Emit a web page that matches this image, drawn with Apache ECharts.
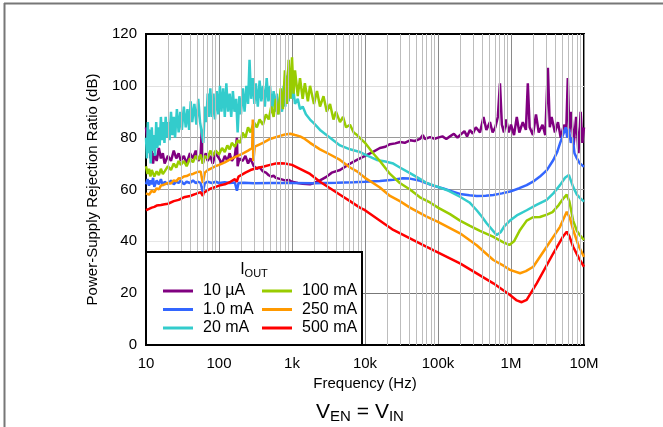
<!DOCTYPE html>
<html><head><meta charset="utf-8">
<script src="https://cdn.jsdelivr.net/npm/echarts/dist/echarts.min.js"></script>
<style>html,body{margin:0;padding:0;background:#fff}#c{width:663px;height:427px}</style>
</head><body><div id="c"></div>
<script>
// ---- tick labels ----
const xTickValues = [10, 100, 1000, 10000, 100000, 1000000, 10000000];
const xTickLabels = ['10', '100', '1k', '10k', '100k', '1M', '10M'];
const yTicks = [0, 20, 40, 60, 80, 100, 120];
const seriesNames = ['10 \u00b5A', '1.0 mA', '20 mA', '100 mA', '250 mA', '500 mA'];
const seriesColors = ['#800080', '#3366ff', '#33cccc', '#99cc00', '#ff9900', '#ff0000'];

// ---- series data: [frequency Hz, PSRR dB] ----
const s10uA = [[10,84],[10.5,78],[11,83],[11.5,72],[12,75],[12.5,70],[13,74],[14,71],[15,76],[16,72],[17,74],[18,70],[20,73],[22,71],[24,75],[26,72],[28,74],[30,71],[33,73],[36,70],[40,74],[44,72],[48,75],[52,71],[56,73],[58,83],[60,70],[62,72],[66,74],[70,71],[76,73],[82,70],[90,74],[100,72],[110,70],[120,73],[130,71],[140,74],[150,71],[165,73],[176,80],[180,69],[190,72],[210,71],[230,73],[250,70],[270,72],[300,69],[330,68],[360,68.5],[400,67],[440,66.5],[480,65.5],[520,65],[560,65.3],[600,64.5],[700,64],[800,63.5],[900,63.7],[1000,63],[1200,62.5],[1400,62.2],[1766,62],[2000,62.5],[2420,63.5],[3000,65],[3500,66.5],[4548,67.5],[5500,69],[6234,70],[7770,71.4],[10000,73],[12900,74.5],[16000,76],[19000,76.5],[22000,77.5],[26000,77.8],[30100,78.3],[35000,78],[41300,79],[48000,78.7],[56600,79.5],[62000,81],[66000,79.5],[77600,80.2],[90000,79.6],[100000,80],[115000,80.5],[130000,79.5],[146000,80.5],[165000,81.5],[185000,80],[200000,81],[230000,82.5],[250000,80.5],[274000,83],[300000,81.5],[330000,84],[376000,82],[420000,88],[460000,83],[515000,86],[560000,82],[610000,84],[660000,88],[706000,101],[750000,85],[800000,82],[860000,87],[930000,82],[1e6,85],[1.1e6,81],[1.2e6,88],[1.3e6,82],[1.45e6,86],[1.6e6,83],[1.7e6,101],[1.8e6,84],[2e6,81],[2.2e6,89],[2.4e6,82],[2.7e6,85],[2.95e6,81],[3.2e6,107],[3.4e6,84],[3.6e6,88],[4e6,82],[4.4e6,86],[4.8e6,80],[5.3e6,85],[5.7e6,82],[6e6,103],[6.3e6,82],[6.7e6,90],[7.2e6,77],[7.8e6,88],[8.4e6,74],[9e6,90],[9.5e6,78],[1e7,84]];

const s1mA = [[10,62],[10.5,64],[11,61.5],[11.5,63.5],[12,62],[12.5,64.5],[13,61],[14,63.5],[15,62],[16,64],[17,61.5],[18,63],[20,62],[22,63.5],[24,62],[26,63],[28,62.5],[30,63.5],[33,62],[36,63],[40,62.5],[44,63.5],[48,62.5],[52,63],[56,62.5],[60,59],[64,62.5],[70,63],[80,62.5],[90,63],[100,62.5],[120,62.8],[140,62.5],[165,62.7],[176,59.5],[185,62.5],[220,62.6],[300,62.4],[500,62.5],[1000,62.5],[2000,62.4],[4000,62.6],[7000,62.8],[10000,63],[16000,63.3],[24400,63.8],[33000,64.3],[41300,64.2],[55000,63.5],[70000,62.4],[90000,61.3],[118000,60.4],[160000,59.2],[200000,58.3],[270000,57.8],[339000,57.5],[450000,57.6],[573000,57.9],[750000,58.5],[969000,59.2],[1.3e6,60.5],[1.64e6,61.7],[2.0e6,63],[2.49e6,65],[3.1e6,67.5],[3.8e6,71.4],[4.3e6,74.5],[4.69e6,77.8],[5.0e6,80],[5.3e6,82],[5.6e6,84],[5.9e6,80],[6.2e6,83.5],[6.6e6,78],[7.0e6,80],[7.4e6,74],[8.0e6,72],[8.8e6,70],[1e7,68.8]];

const s20mA = [[10,80],[10.3,72],[10.6,86],[10.9,74],[11.2,83],[11.6,70],[12,84],[12.4,75],[12.8,81],[13.3,73],[13.8,86],[14.3,76],[14.8,84],[15.4,77],[16,88],[16.6,79],[17.2,86],[17.9,78],[18.6,88],[19.3,80],[20,86],[21,79],[22,90],[23,81],[24,88],[25,80],[26.5,91],[28,82],[29.5,90],[31,83],[33,92],[35,84],[37,91],[39,83],[41,94],[43,86],[46,93],[49,85],[52,95],[55,86],[58,82],[61,78],[64,92],[67,86],[70,97],[73,88],[76,99],[80,88],[84,97],[88,87],[93,98],[98,89],[103,100],[108,90],[114,99],[120,88],[126,101],[133,90],[140,97],[147,88],[155,98],[163,90],[172,95],[180,82],[190,96],[200,89],[212,99],[224,90],[237,100],[250,93],[262,110],[275,95],[290,103],[305,93],[320,101],[340,92],[360,102],[380,94],[400,100],[425,92],[450,103],[475,94],[500,100],[530,91],[560,98],[590,90],[620,97],[650,89],[690,96],[730,90],[770,100],[810,92],[850,104],[900,94],[950,106],[1000,95],[1050,98],[1100,93],[1200,95],[1288,91],[1400,92],[1550,89],[1766,87],[2000,85.5],[2420,83],[3318,80],[4548,77],[6234,75.5],[8500,74.5],[10000,73.5],[14500,71.4],[19000,70.8],[24400,70],[30000,68.5],[41300,66.3],[55000,64.3],[70000,62.5],[100000,61],[140000,59.5],[200000,57.2],[270000,55],[339000,52],[400000,49.5],[464000,47],[550000,44.5],[637000,42.4],[720000,43.5],[820000,46],[969000,48],[1.2e6,50],[1.64e6,52],[2.2e6,54],[3.08e6,56],[3.8e6,58.5],[4.69e6,61.7],[5.5e6,64.5],[6.2e6,65.6],[6.6e6,65],[7.1e6,61],[8e6,58],[9e6,56.5],[1e7,55.3]];

const s100mA = [[10,69],[10.5,66],[11,68],[11.5,65],[12,67.5],[13,65],[14,67],[15,65.5],[16,68],[17,66],[18,67],[20,69],[22,67.5],[24,70],[26,68.5],[28,71],[30,69.5],[33,71],[36,69],[40,72],[44,70.5],[48,73],[52,71.5],[56,73.5],[60,70],[64,73],[70,72],[76,75],[82,73],[90,75],[100,73.5],[110,76],[120,74.5],[130,77],[140,75.5],[150,78],[165,76.5],[180,79],[195,78],[210,82],[230,80],[250,84],[270,82],[300,86],[330,84],[360,87],[400,85],[440,89],[480,87],[520,92],[560,88],[600,95],[650,89],[700,99],[750,91],[800,106],[850,93],[900,110],[950,95],[1000,111],[1050,97],[1100,106],[1200,96],[1288,103],[1400,95],[1500,101],[1650,94],[1766,100],[2000,93],[2200,98],[2420,92],[2700,96],[3000,90],[3318,93],[3700,87],[4000,90],[4548,86],[5000,88],[5500,84],[6234,85],[7000,82],[7770,81],[10000,78],[12900,74],[16000,71],[22000,66],[30000,62.5],[41300,60],[56600,57],[77600,55],[100000,53],[146000,50.5],[200000,48],[274000,46],[376000,44],[566000,41.8],[800000,39.5],[950000,38.6],[1.1e6,40],[1.33e6,44.4],[1.64e6,48],[2.0e6,49.3],[2.49e6,49.4],[3.1e6,50.3],[3.7e6,51.3],[4.5e6,54],[5.2e6,56.5],[5.8e6,58],[6.3e6,55.5],[7.1e6,48],[8e6,44],[9e6,42],[1e7,40.5]];

const s250mA = [[10,58.5],[11,58],[12,59.5],[13,59],[14,60.5],[15,60],[16,61.5],[18,62],[20,62.5],[22,62.3],[24,63.5],[26,63.2],[28,64.3],[30,64.2],[33,65],[36,65.2],[40,65.8],[44,66],[48,66.5],[52,66.8],[56,67],[60,62.5],[64,66.5],[70,67.5],[76,68],[90,69],[100,69.5],[120,70.5],[140,71.5],[165,72.5],[180,73],[200,73.5],[250,75],[285,76],[290,87],[295,71],[310,76.5],[330,77],[400,78],[500,79.5],[650,80.5],[800,81.2],[950,81.5],[1100,81],[1288,80.5],[1500,79.5],[1766,78],[2420,75.5],[3318,73.5],[4548,71.4],[6234,68.5],[7770,67],[10000,64.5],[12900,62.5],[16000,60.8],[22000,57.5],[30000,55.5],[41300,53],[70000,49.5],[100000,47.5],[200000,43.1],[339000,38.5],[573000,32.8],[800000,30.5],[969000,29],[1.33e6,27.7],[1.6e6,28.5],[2.02e6,30.2],[3.08e6,37.9],[4.69e6,45.6],[5.8e6,51.4],[6.4e6,49],[7.1e6,44.4],[8.5e6,38],[1e7,34]];

const s500mA = [[10,52],[11,52.5],[12,53],[13,53.3],[14,53.8],[16,54],[18,54.3],[20,54.5],[24,55.5],[28,56],[33,57],[40,57.5],[48,58.3],[56,59],[58,58.5],[60,57.5],[62,58.8],[64,59.5],[76,60.3],[90,61],[100,61.5],[120,62],[140,62.8],[165,64],[175,63],[180,62.5],[185,65],[230,66.5],[270,67.5],[330,68.3],[400,68.8],[500,69.5],[600,70],[700,70.1],[800,70],[1000,69.5],[1288,68],[1766,66],[2420,63],[3318,60.5],[4548,58],[6234,55.5],[8500,53],[10000,52],[24400,44.4],[70000,37.9],[200000,31.5],[573000,23.8],[969000,19.3],[1.2e6,17.2],[1.4e6,16.5],[1.64e6,17.4],[2.25e6,23.8],[3.8e6,35.4],[5.2e6,42],[5.8e6,43.7],[6.3e6,42],[7.1e6,37.9],[8.5e6,33.5],[1e7,30.2]];

const seriesData = [s10uA, s1mA, s20mA, s100mA, s250mA, s500mA];

// minor log grid positions (2..9 per decade)
const minorGrid = [];
for (let d = 10; d < 1e7; d *= 10) for (let m = 2; m <= 9; m++) minorGrid.push(d * m);

const chart = echarts.init(document.getElementById('c'), null, {renderer: 'canvas'});
const FONT = 'Liberation Sans, Arial, sans-serif';

const series = seriesData.map((d, i) => ({
  name: seriesNames[i], type: 'line', data: d, showSymbol: false, symbol: 'none',
  lineStyle: {width: 2.5, color: seriesColors[i]}, itemStyle: {color: seriesColors[i]},
  z: 3, animation: false
}));
series.unshift({
  name: 'grid', type: 'line', data: [], z: 1, silent: true, animation: false,
  markLine: {symbol: ['none', 'none'], silent: true, animation: false, label: {show: false},
    lineStyle: {color: '#bdbdbd', width: 1, type: 'solid'},
    data: minorGrid.map(v => ({xAxis: v}))}
});

chart.setOption({
  animation: false,
  grid: {left: 146, top: 34, width: 438, height: 311, show: true, borderColor: '#000', borderWidth: 2, backgroundColor: 'transparent'},
  xAxis: {
    type: 'log', logBase: 10, min: 10, max: 1e7,
    name: 'Frequency (Hz)', nameLocation: 'middle', nameGap: 30,
    nameTextStyle: {fontFamily: FONT, fontSize: 15, color: '#000'},
    axisLine: {show: true, lineStyle: {color: '#000', width: 2}},
    axisTick: {show: false},
    axisLabel: {fontFamily: FONT, fontSize: 15, color: '#000', margin: 11,
      formatter: v => { const i = xTickValues.findIndex(t => Math.abs(Math.log10(t) - Math.log10(v)) < 1e-6); return i >= 0 ? xTickLabels[i] : ''; }},
    splitLine: {show: true, lineStyle: {color: '#8a8a8a', width: 1}}
  },
  yAxis: {
    type: 'value', min: yTicks[0], max: yTicks[yTicks.length - 1], interval: 20,
    name: 'Power-Supply Rejection Ratio (dB)', nameLocation: 'middle', nameGap: 46,
    nameTextStyle: {fontFamily: FONT, fontSize: 15, color: '#000'},
    axisLine: {show: true, lineStyle: {color: '#000', width: 2}},
    axisTick: {show: false},
    axisLabel: {fontFamily: FONT, fontSize: 15, color: '#000', margin: 9},
    splitLine: {show: true, lineStyle: {color: ['#000', '#777', '#e6e6e6', '#9a9a9a', '#9a9a9a', '#e0e0e0', '#000'], width: 1}}
  },
  legend: [
    {data: seriesNames.slice(0, 3), orient: 'vertical', left: 158, top: 278, itemWidth: 30, itemHeight: 3, itemGap: 2.5, icon: 'rect', z: 110,
      textStyle: {fontFamily: FONT, fontSize: 16, color: '#000', padding: [0, 0, 0, 5], lineHeight: 16}},
    {data: seriesNames.slice(3), orient: 'vertical', left: 257, top: 278, itemWidth: 30, itemHeight: 3, itemGap: 2.5, icon: 'rect', z: 110,
      textStyle: {fontFamily: FONT, fontSize: 16, color: '#000', padding: [0, 0, 0, 5], lineHeight: 16}}
  ],
  graphic: [
    {type: 'line', shape: {x1: 4, y1: 3.5, x2: 663, y2: 3.5}, style: {stroke: '#777', lineWidth: 2}, z: 100},
    {type: 'line', shape: {x1: 4.5, y1: 3, x2: 4.5, y2: 427}, style: {stroke: '#777', lineWidth: 2}, z: 100},
    {type: 'rect', shape: {x: 146, y: 252, width: 216, height: 93}, style: {fill: '#fff', stroke: '#000', lineWidth: 2}, z: 100},
    {type: 'text', x: 254, y: 270, z: 105, style: {text: 'I{s|OUT}', font: '16px ' + FONT, fill: '#000', align: 'center', verticalAlign: 'middle',
      rich: {s: {fontSize: 11, fontFamily: FONT, padding: [7, 0, 0, 0]}}}},
    {type: 'text', x: 360, y: 412, z: 105, style: {text: 'V{s|EN} = V{s|IN}', font: '21px ' + FONT, fill: '#000', align: 'center', verticalAlign: 'middle',
      rich: {s: {fontSize: 15, fontFamily: FONT, padding: [9, 0, 0, 0]}}}}
  ],
  series: series
});
</script></body></html>
